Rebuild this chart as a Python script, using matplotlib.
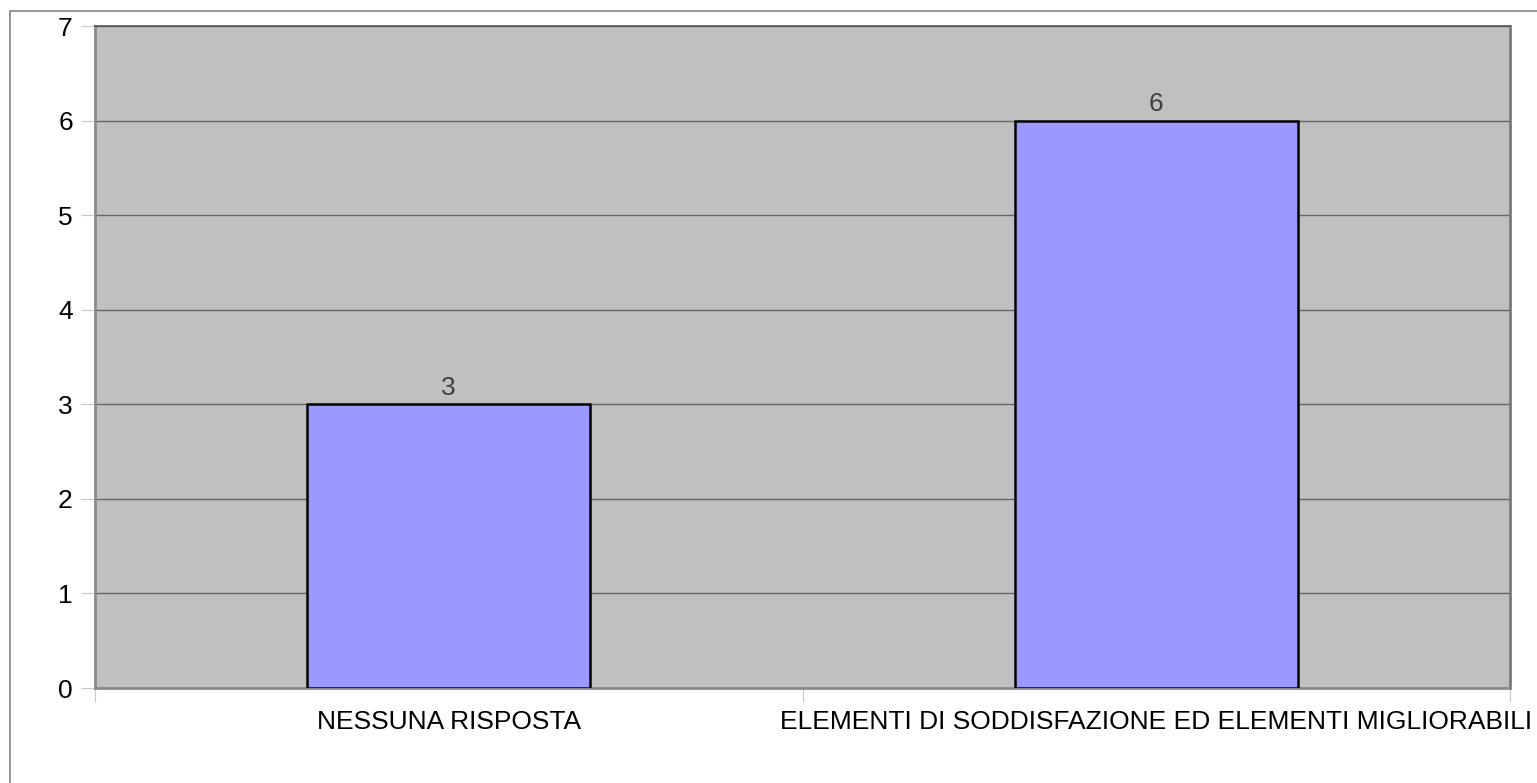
import numpy as np
import matplotlib.pyplot as plt
from matplotlib.patches import Rectangle

# Dati del grafico
categorie = ["NESSUNA RISPOSTA", "ELEMENTI DI SODDISFAZIONE ED ELEMENTI MIGLIORABILI"]
valori = [3, 6]
yticks = [0, 1, 2, 3, 4, 5, 6, 7]

plt.rcParams['font.family'] = ['Liberation Sans', 'DejaVu Sans']

fig = plt.figure(figsize=(15.37, 7.83), dpi=100)
ax = fig.add_axes([95 / 1537, 1 - 688 / 783, 1415 / 1537, 662 / 783])

# cornice esterna
fig.patches.append(Rectangle((10 / 1537, -0.1), 1.2, 1 - 11 / 783 + 0.1,
                             transform=fig.transFigure, fill=False,
                             edgecolor='#7f8590', linewidth=1.2, zorder=0))

ax.set_facecolor('#c0c0c0')
x = np.arange(len(categorie))
ax.bar(x, valori, width=0.4, color='#9999ff', edgecolor='black', linewidth=1.8, zorder=3)

for xi, v in zip(x, valori):
    ax.text(xi, v + 0.05, str(v), ha='center', va='bottom', fontsize=19, color='#404040')

ax.set_xlim(-0.5, len(categorie) - 0.5)
ax.set_ylim(0, 7)
ax.set_yticks(yticks)
ax.tick_params(axis='y', labelsize=19, length=10, color='#c8c8c8', pad=6)
ax.yaxis.grid(True, color='#666666', linewidth=1.0, zorder=1)
ax.set_axisbelow(True)

# tick tra le categorie, etichette al centro
ax.set_xticks(np.arange(-0.5, len(categorie), 1.0))
ax.set_xticklabels([])
ax.set_xticks(x, minor=True)
ax.set_xticklabels(categorie, minor=True)
ax.tick_params(axis='x', which='major', length=10, color='#c8c8c8')
ax.tick_params(axis='x', which='minor', length=0, labelsize=19, pad=16)

for s in ['left', 'bottom']:
    ax.spines[s].set_color('#8a8a8a')
    ax.spines[s].set_linewidth(2)
ax.spines['top'].set_color('#555555')
ax.spines['top'].set_linewidth(1.2)
ax.spines['right'].set_color('#7a7a7a')
ax.spines['right'].set_linewidth(2)

fig.savefig('out.png', dpi=100)
